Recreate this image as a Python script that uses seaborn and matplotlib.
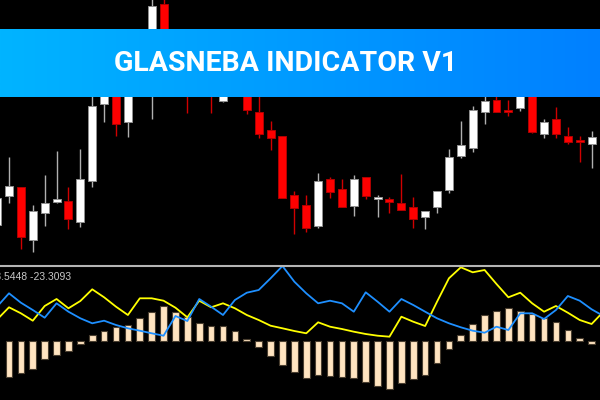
import numpy as np
import pandas as pd
import seaborn as sns
import matplotlib.pyplot as plt
from matplotlib.lines import Line2D

# price candles, bar index -1 .. 50 (first and last are cut by the frame)
bar_idx = list(range(-1, 51))
opens = [41, 70, 79, 26, 53, 64, 65, 44, 85, 162, 181, 144, 191, 221, 262, 221, 211, 186,
         206, 165, 196, 191, 154, 136, 130, 71, 61, 40, 87, 77, 60, 89, 67, 67, 63, 59,
         49, 59, 76, 110, 118, 154, 166, 156, 158, 181, 132, 147, 130, 126, 122, 126]
closes = [68, 80, 29, 55, 63, 67, 47, 87, 160, 186, 142, 196, 216, 260, 216, 206, 191, 206,
          181, 186, 181, 156, 132, 128, 68, 58, 38, 85, 74, 59, 87, 70, 69, 64, 56, 47,
          55, 75, 109, 121, 156, 165, 154, 154, 176, 134, 144, 132, 124, 124, 129, 160]
highs = [74, 109, 79, 61, 91, 115, 79, 117, 174, 196, 191, 206, 226, 268, 269, 231, 221, 216,
         216, 196, 206, 201, 176, 145, 130, 75, 71, 93, 89, 87, 91, 89, 71, 69, 92, 69,
         55, 75, 117, 145, 160, 176, 176, 166, 181, 186, 147, 159, 139, 130, 135, 166]
lows = [34, 63, 17, 14, 40, 63, 37, 39, 79, 144, 130, 129, 181, 147, 196, 191, 153, 176,
        153, 164, 171, 152, 128, 116, 68, 32, 34, 38, 68, 59, 50, 67, 49, 53, 56, 38,
        37, 53, 73, 108, 114, 142, 154, 150, 155, 133, 128, 128, 122, 104, 98, 116]

# indicator histogram, bar index 0 .. 49
hist_idx = list(range(0, 50))
hist_vals = [-35.7, -31.7, -27.7, -18, -13.7, -9.7, -3, 6.3, 10.3, 14, 16, 23, 29.3, 34.7,
             28.7, 23.7, 18.3, 14.7, 14.7, 9.7, 2, -6.3, -15, -24, -31.3, -36.7, -33.7,
             -34.7, -35.7, -36.7, -41, -44.7, -47.7, -41.7, -38, -34.3, -22.3, -8.3, 5.7,
             17, 26, 30, 33, 30, 26.7, 22.7, 19.3, 11, 3.3, -3.3]

# indicator lines, bar index -1 .. 50
line_idx = list(range(-1, 51))
yellow_vals = [21.5, 33.7, 27.7, 20.3, 35, 42, 32.7, 40, 51.7, 43.7, 34.3, 26, 42.7, 42.7,
               40.3, 33.3, 23.7, 40.3, 33.7, 37.7, 32.7, 26, 21, 15.3, 12.7, 10, 7.7, 18.7,
               14.3, 12, 9.3, 7, 5.3, 4.3, 24.3, 19.3, 15, 39.3, 62.7, 73.7, 68.7, 71, 57,
               43.7, 48.3, 37.7, 29.3, 35, 28.3, 21, 17, 29.4]
blue_vals = [34.4, 47.7, 38.3, 31, 23.3, 37.7, 29.3, 22.7, 17.7, 20.3, 16, 12.7, 10.3, 7.7,
             5.3, 25, 20, 42, 34.3, 26, 41, 48.3, 51, 62.7, 75, 59.3, 47.7, 37.7, 40.3, 37.7,
             29.3, 48.7, 39.3, 29.3, 42, 36, 29.3, 22.7, 17.7, 13.7, 10.3, 8.3, 14.3, 11,
             27.7, 27.7, 22, 31, 45, 40.3, 31.7, 25]

title = "GLASNEBA INDICATOR V1"
readout = "-23.5448 -23.3093"

sns.set_style("dark", {"axes.facecolor": "black", "figure.facecolor": "black"})

W, H = 600, 400
fig = plt.figure(figsize=(6, 4), dpi=100)
fig.patch.set_facecolor("black")

xlim = (-9 / 11.89, 591 / 11.89)

# ---- price panel
ax = fig.add_axes([0, 1 - 265 / H, 1, 265 / H])
ax.set_facecolor("black")
df = pd.DataFrame({"i": bar_idx, "open": opens, "close": closes, "high": highs, "low": lows})
up = df["close"] >= df["open"]
body_low = df[["open", "close"]].min(axis=1)
body_h = (df["close"] - df["open"]).abs().clip(lower=2)

ax.vlines(df["i"], df["low"], df["high"],
          colors=np.where(up, "#b0b0b0", "#d00000"), lw=1, zorder=1)
ax.bar(df["i"], body_h, bottom=body_low, width=0.67,
       color=np.where(up, "white", "#ff0000"),
       edgecolor=np.where(up, "#909090", "#b00000"), lw=0.7, zorder=2)
ax.set_xlim(*xlim)
ax.set_ylim(1, 266)
ax.axis("off")

# ---- indicator panel
ax2 = fig.add_axes([0, 0, 1, 133 / H])
ax2.set_facecolor("black")
sns.barplot(x=hist_idx, y=hist_vals, native_scale=True, width=0.56, color="#ffe4c0",
            saturation=1, edgecolor="#4a3f30", linewidth=0.8, errorbar=None, ax=ax2)
sns.lineplot(x=line_idx, y=yellow_vals, color="#ffff00", lw=1.3, ax=ax2)
sns.lineplot(x=line_idx, y=blue_vals, color="#1e8fff", lw=1.3, ax=ax2)
ax2.set_xlim(*xlim)
ax2.set_ylim(-59, 74)
ax2.axis("off")

fig.add_artist(Line2D([0, 1], [1 - 266 / H] * 2, color="#b4b4b4", lw=1.5))
fig.text(-14 / W, 1 - 277 / H, readout, color="#c8c8c8", fontsize=7.5,
         family="Liberation Sans", va="center", ha="left")

# ---- banner
bax = fig.add_axes([0, 1 - 97 / H, 1, 68 / H])
t = np.linspace(0, 1, 256)
left = np.array([0, 180, 255]) / 255
right = np.array([0, 128, 255]) / 255
grad = (left[None, :] * (1 - t[:, None]) + right[None, :] * t[:, None])[None, :, :]
bax.imshow(grad, aspect="auto", extent=[0, 1, 0, 1])
bax.axis("off")
bax.text(286 / W, 0.387, title, color="white", fontsize=20.5, fontweight="bold",
         family="Roboto", ha="center", va="baseline")

fig.savefig("out.png", dpi=100, facecolor="black")
